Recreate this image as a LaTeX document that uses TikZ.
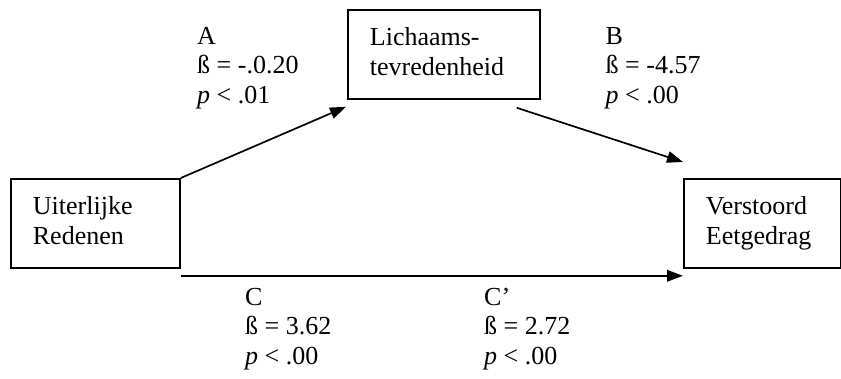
\documentclass[tikz,border=0pt]{standalone}
\usepackage{fontspec}
\setmainfont{Liberation Serif}
\usetikzlibrary{arrows.meta}
\begin{document}
\begin{tikzpicture}[x=1pt,y=1pt,
  box/.style={draw, line width=1.8pt, minimum height=89pt, inner xsep=22pt, inner ysep=0pt,
    align=left, anchor=north west, font=\fontsize{26}{29.5}\selectfont},
  lbl/.style={inner sep=0pt, anchor=north west, align=left, font=\fontsize{26}{29.5}\selectfont},
  arr/.style={line width=1.7pt, -{Triangle[length=16pt,width=11.5pt]}}]
\useasboundingbox (0,0) rectangle (841,378);
% boxes
\node[box, text width=125pt] (lr) at (10,200) {\strut Uiterlijke\\\strut Redenen};
\node[box, text width=148pt] (top) at (347,369) {\strut Lichaams-\\\strut tevredenheid};
\node[box, text width=113pt] (rb) at (683,200) {\strut Verstoord\\\strut Eetgedrag};
% labels
\node[lbl] (la) at (197,354.65) {\strut A\\\strut ß = -.0.20\\\strut \textit{p} < .01};
\node[lbl] (lb) at (605.5,354.65) {\strut B\\\strut ß = -4.57\\\strut \textit{p} < .00};
\node[lbl] (lc) at (245,93.65) {\strut C\\\strut ß = 3.62\\\strut \textit{p} < .00};
\node[lbl] (lcp) at (484,93.65) {\strut C’\\\strut ß = 2.72\\\strut \textit{p} < .00};
% arrows
\draw[arr] (lr.north east) -- ([shift={(-1,-7)}]top.south west);
\draw[arr] ([shift={(-24,-8)}]top.south east) -- ([shift={(0,16)}]rb.north west);
\draw[arr] ([shift={(0,-7)}]lr.south east) -- ([shift={(0,-7)}]rb.south west);
\end{tikzpicture}
\end{document}
